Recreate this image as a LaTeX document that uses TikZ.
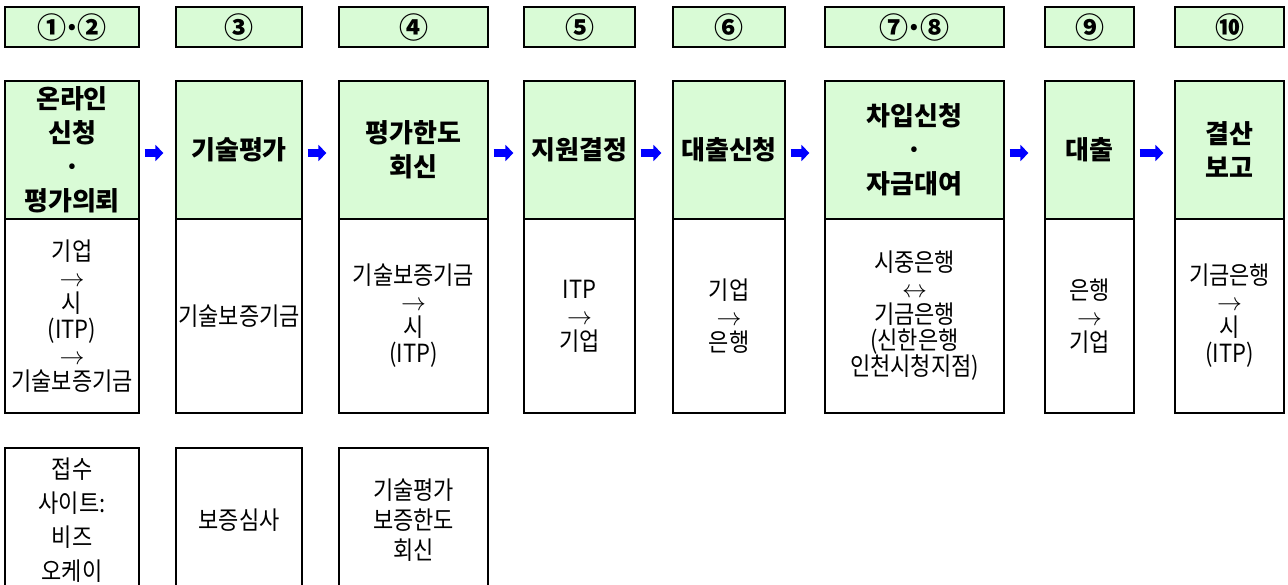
\documentclass[tikz,border=0pt]{standalone}
\usepackage{fontspec}
\setmainfont{Noto Sans CJK KR}
\newfontfamily\thinfont{Noto Sans CJK KR}[FakeStretch=0.88]
\usetikzlibrary{arrows.meta}
\definecolor{stepgreen}{RGB}{217,251,214}
\definecolor{flowblue}{RGB}{0,0,255}

\begin{document}
\begin{tikzpicture}[x=1pt,y=-1pt,
  numbox/.style={draw=black,line width=1.2pt,fill=stepgreen,minimum height=40pt,inner sep=0pt,font=\fontsize{29}{30}\selectfont\bfseries},
  stepbox/.style={draw=black,line width=1.2pt,fill=stepgreen,minimum height=138pt,inner sep=0pt,align=center,font=\fontsize{26}{34}\selectfont\bfseries},
  whobox/.style={draw=black,line width=1.2pt,fill=white,minimum height=194pt,inner sep=0pt,align=center,font=\thinfont\fontsize{25}{26}\selectfont},
  notebox/.style={draw=black,line width=1.2pt,fill=white,minimum height=144pt,inner sep=0pt,align=center,font=\thinfont\fontsize{25}{#1}\selectfont},
  flow/.style={flowblue,line width=8pt,-{Triangle[length=8pt,width=16pt]},shorten <=5pt,shorten >=#1}]
\useasboundingbox (0,0) rectangle (1288,584);
\clip (0,0) rectangle (1288,584);

\node[numbox,minimum width=134pt] (num1) at (72,27) {①\kern-3pt·\kern-3pt②};
\node[numbox,minimum width=126pt] (num2) at (239,27) {③};
\node[numbox,minimum width=149pt] (num3) at (413.5,27) {④};
\node[numbox,minimum width=111pt] (num4) at (579.5,27) {⑤};
\node[numbox,minimum width=112pt] (num5) at (729,27) {⑥};
\node[numbox,minimum width=179pt] (num6) at (914.5,27) {⑦\kern-3pt·\kern-3pt⑧};
\node[numbox,minimum width=89pt] (num7) at (1089.5,27) {⑨};
\node[numbox,minimum width=109pt] (num8) at (1229.5,27) {⑩};

\node[stepbox,minimum width=134pt] (step1) at (72,150) {온라인\\신청\\·\\평가의뢰};
\node[stepbox,minimum width=126pt] (step2) at (239,150) {기술평가};
\node[stepbox,minimum width=149pt] (step3) at (413.5,150) {평가한도\\회신};
\node[stepbox,minimum width=111pt] (step4) at (579.5,150) {지원결정};
\node[stepbox,minimum width=112pt] (step5) at (729,150) {대출신청};
\node[stepbox,minimum width=179pt] (step6) at (914.5,150) {차입신청\\·\\자금대여};
\node[stepbox,minimum width=89pt] (step7) at (1089.5,150) {대출};
\node[stepbox,minimum width=109pt] (step8) at (1229.5,150) {결산\\보고};

\node[whobox,minimum width=134pt] (who1) at (72,316) {기업\\$\rightarrow$\\시\\(ITP)\\$\rightarrow$\\기술보증기금};
\node[whobox,minimum width=126pt] (who2) at (239,316) {기술보증기금};
\node[whobox,minimum width=149pt] (who3) at (413.5,316) {기술보증기금\\$\rightarrow$\\시\\(ITP)};
\node[whobox,minimum width=111pt] (who4) at (579.5,316) {ITP\\$\rightarrow$\\기업};
\node[whobox,minimum width=112pt] (who5) at (729,316) {기업\\$\rightarrow$\\은행};
\node[whobox,minimum width=179pt] (who6) at (914.5,316) {시중은행\\$\leftrightarrow$\\기금은행\\(신한은행\\인천시청지점)};
\node[whobox,minimum width=89pt] (who7) at (1089.5,316) {은행\\$\rightarrow$\\기업};
\node[whobox,minimum width=109pt] (who8) at (1229.5,316) {기금은행\\$\rightarrow$\\시\\(ITP)};

\node[notebox=34,minimum width=134pt] (note1) at (72,520) {접수\\사이트:\\비즈\\오케이};
\node[notebox=30,minimum width=126pt] (note2) at (239,520) {보증심사};
\node[notebox=30,minimum width=149pt] (note3) at (413.5,520) {기술평가\\보증한도\\회신};

\draw[flow=12pt] ([yshift=-3pt]step1.east) -- ([yshift=-3pt]step2.west);
\draw[flow=12pt] ([yshift=-3pt]step2.east) -- ([yshift=-3pt]step3.west);
\draw[flow=10pt] ([yshift=-3pt]step3.east) -- ([yshift=-3pt]step4.west);
\draw[flow=11pt] ([yshift=-3pt]step4.east) -- ([yshift=-3pt]step5.west);
\draw[flow=15pt] ([yshift=-3pt]step5.east) -- ([yshift=-3pt]step6.west);
\draw[flow=16pt] ([yshift=-3pt]step6.east) -- ([yshift=-3pt]step7.west);
\draw[flow=11pt] ([yshift=-3pt]step7.east) -- ([yshift=-3pt]step8.west);
\end{tikzpicture}
\end{document}
